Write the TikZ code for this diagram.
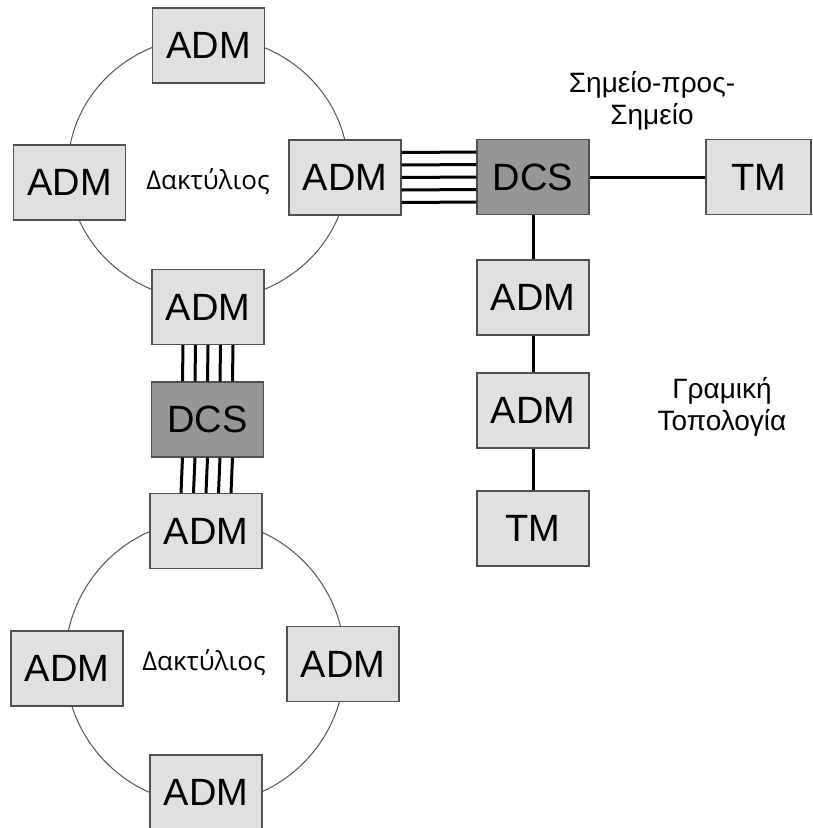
\documentclass[tikz,border=0pt]{standalone}
\usepackage{fontspec}
\setmainfont{Liberation Sans}
\newfontfamily\opensans{Open Sans}
\definecolor{boxfill}{HTML}{E0E0E0}
\definecolor{dcsfill}{HTML}{969696}
\definecolor{boxline}{HTML}{505050}
\definecolor{ringline}{HTML}{555555}
\begin{document}
\begin{tikzpicture}[x=1pt,y=-1pt,
  unit/.style={draw=boxline, line width=1.3pt, fill=boxfill, minimum width=112pt, minimum height=75pt, inner sep=0pt, font=\fontsize{38}{42}\selectfont},
  dcsbox/.style={unit, fill=dcsfill},
  link/.style={line width=3pt, black},
  ring/.style={ringline, line width=1pt},
  lbl/.style={align=center, font=\fontsize{28}{32}\selectfont, inner sep=0pt},
  ringlbl/.style={font=\opensans\fontsize{26}{30}\selectfont, inner sep=0pt}]
\useasboundingbox (0,0) rectangle (812,828);
\fill[white] (0,0) rectangle (812,828);
% rings
\draw[ring] (208,168.5) ellipse [x radius=140, y radius=132];
\draw[ring] (205,662) ellipse [x radius=140, y radius=142];
% upper ring nodes
\node[unit] (r1t) at (208.5,45.5) {ADM};
\node[unit] (r1l) at (69.5,182.5) {ADM};
\node[unit] (r1r) at (345,177.5) {ADM};
\node[unit] (r1b) at (208,307) {ADM};
\node[ringlbl] (l1) at (208,182) {Δακτύλιος};
% middle DCS
\node[dcsbox] (dcs1) at (207.5,419.5) {DCS};
% lower ring nodes
\node[unit] (r2t) at (206,531) {ADM};
\node[unit] (r2l) at (67,668.5) {ADM};
\node[unit] (r2r) at (343,664) {ADM};
\node[unit] (r2b) at (206,792.5) {ADM};
\node[ringlbl] (l2) at (204,663) {Δακτύλιος};
% right part
\node[dcsbox] (dcs2) at (533,177) {DCS};
\node[unit, minimum width=105pt] (tm1) at (758.5,177) {TM};
\node[unit] (ad1) at (533,297.5) {ADM};
\node[unit] (ad2) at (533,410.5) {ADM};
\node[unit] (tm2) at (533,528.5) {TM};
\node[lbl] (p2p) at (652,101) {Σημείο-προς-\\Σημείο};
\node[lbl] (lin) at (722,407) {Γραμική\\Τοπολογία};
% parallel links
\foreach \d in {-25,-12.5,0,12.5,25}{
  \draw[link] ([yshift=\d pt]r1r.east) -- ([yshift=\d pt]dcs2.west);
  \draw[link] ([xshift=\d pt]r1b.south) -- ([xshift=\d pt]dcs1.north);
  \draw[link] ([xshift=\d pt]dcs1.south) -- ([xshift=\d pt]r2t.north);
}
% single links
\draw[link] (dcs2.east) -- (tm1.west);
\draw[link] (dcs2.south) -- (ad1.north);
\draw[link] (ad1.south) -- (ad2.north);
\draw[link] (ad2.south) -- (tm2.north);
\end{tikzpicture}
\end{document}
